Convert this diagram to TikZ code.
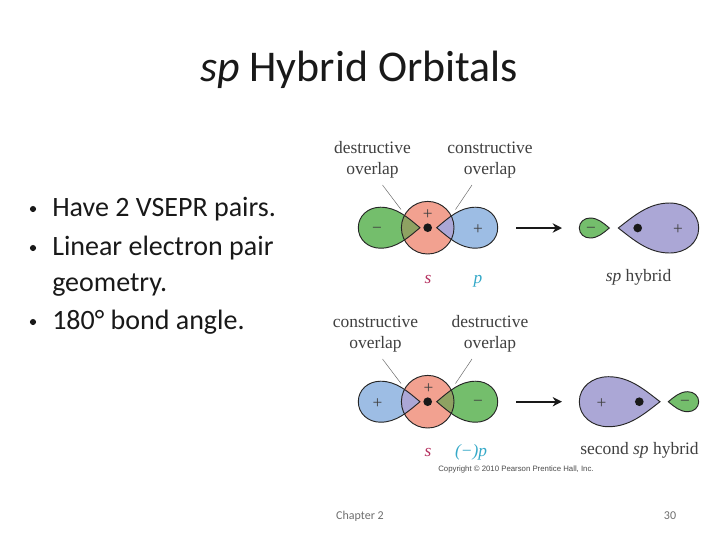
\documentclass[tikz,border=0pt]{standalone}
\usepackage{fontspec}
\setmainfont{Carlito}
\newfontfamily\figfont{Liberation Serif}
\newfontfamily\cpfont{Liberation Sans}
\definecolor{orbgreen}{HTML}{74BE6C}
\definecolor{orbred}{HTML}{F2A190}
\definecolor{orbblue}{HTML}{9DBDE4}
\definecolor{orbpurple}{HTML}{ABA7D6}
\definecolor{ovgreen}{HTML}{8EA262}
\definecolor{ovpurple}{HTML}{ABA7D6}
\definecolor{slabel}{HTML}{B5305F}
\definecolor{plabel}{HTML}{35A9C8}
\definecolor{foot}{HTML}{6E6E6E}
% lobe path: tip x, centre y, signed length, half height
\newcommand{\lobepath}[4]{
  (#1,#2) .. controls ({#1+0.20*(#3)},{#2-0.50*(#4)}) and ({#1+0.38*(#3)},{#2-(#4)}) ..
  ({#1+0.64*(#3)},{#2-(#4)}) .. controls ({#1+0.84*(#3)},{#2-(#4)}) and ({#1+(#3)},{#2-0.58*(#4)}) ..
  ({#1+(#3)},#2) .. controls ({#1+(#3)},{#2+0.58*(#4)}) and ({#1+0.84*(#3)},{#2+(#4)}) ..
  ({#1+0.64*(#3)},{#2+(#4)}) .. controls ({#1+0.38*(#3)},{#2+(#4)}) and ({#1+0.20*(#3)},{#2+0.50*(#4)}) ..
  (#1,#2) -- cycle}
\usetikzlibrary{arrows.meta}
\tikzset{
  x=0.75pt,y=-0.75pt,
  outline/.style={draw=black!85,line width=0.7pt},
  title/.style={font=\fontsize{32.9}{38}\selectfont,text=black!90,inner sep=0,anchor=base},
  bullet/.style={font=\fontsize{21}{25}\selectfont,text=black!90,inner sep=0,anchor=base west},
  bulletmark/.style={circle,fill=black!90,minimum size=4.6pt,inner sep=0},
  figlabel/.style={font=\figfont\fontsize{13.1}{15}\selectfont,text=black!75,inner sep=0,anchor=base},
  sign/.style={font=\figfont\fontsize{13}{14}\selectfont,text=black!75,inner sep=0,yshift=-1.5pt},
  orbit/.style={font=\figfont\itshape\fontsize{13}{15}\selectfont,inner sep=0,anchor=base},
  leader/.style={draw=black!60,line width=0.35pt},
  bigarrow/.style={draw=black!90,line width=1.4pt,-{Stealth[length=7pt,width=7pt]}},
  dotmark/.style={circle,fill=black!90,minimum size=6.5pt,inner sep=0},
  footer/.style={font=\fontsize{9}{11}\selectfont,text=foot,inner sep=0,anchor=base},
}
\begin{document}
\begin{tikzpicture}
\useasboundingbox (0,0) rectangle (720,540);
\fill[white] (0,0) rectangle (720,540);
% title
\node[title] (ttl) at (359,81) {\textit{sp} Hybrid Orbitals};
% bullets
\node[bulletmark] (b1m) at (33,209) {};
\node[bullet] (b1) at (52,216) {Have 2 VSEPR pairs.};
\node[bulletmark] (b2m) at (33,248) {};
\node[bullet] (b2) at (52,255) {Linear electron pair};
\node[bullet] (b2b) at (52,291) {geometry.};
\node[bulletmark] (b3m) at (33,322) {};
\node[bullet] (b3) at (52,329) {180° bond angle.};
% ---------- top figure
\fill[orbgreen] \lobepath{420}{227.7}{-61.7}{20.5};
\fill[orbblue] \lobepath{436.7}{227.7}{61}{20.5};
\fill[orbred] (427.7,227.7) circle (26.3);
\begin{scope}
  \clip (427.7,227.7) circle (26.3);
  \fill[ovgreen] \lobepath{420}{227.7}{-61.7}{20.5};
  \fill[ovpurple] \lobepath{436.7}{227.7}{61}{20.5};
\end{scope}
\draw[outline] \lobepath{420}{227.7}{-61.7}{20.5};
\draw[outline] \lobepath{436.7}{227.7}{61}{20.5};
\draw[outline] (427.7,227.7) circle (26.3);
\node[dotmark] (d1) at (427.7,227.7) {};
\node[sign] (s1) at (377,228) {−};
\node[sign] (s2) at (427.7,213) {+};
\node[sign] (s3) at (478,228) {+};
\node[figlabel] (t1a) at (372.5,153) {destructive};
\node[figlabel] (t1b) at (372.5,174.5) {overlap};
\node[figlabel] (t2a) at (490,153) {constructive};
\node[figlabel] (t2b) at (490,174.5) {overlap};
\coordinate (l1) at (401,209.5);
\coordinate (l1s) at (382.5,185);
\coordinate (l2) at (455.5,209.5);
\coordinate (l2s) at (472,185);
\draw[leader] (l1s) -- (l1);
\draw[leader] (l2s) -- (l2);
\coordinate (a1s) at (516,228);
\coordinate (a1e) at (562,228);
\draw[bigarrow] (a1s) -- (a1e);
\fill[orbgreen] \lobepath{609.3}{228}{-30}{10};
\draw[outline] \lobepath{609.3}{228}{-30}{10};
\fill[orbpurple] \lobepath{618.3}{228}{80.4}{25};
\draw[outline] \lobepath{618.3}{228}{80.4}{25};
\node[dotmark] (d2) at (637.7,228) {};
\node[sign] (s4) at (591,228) {−};
\node[sign] (s5) at (678,228) {+};
\node[orbit,text=slabel] (o1) at (428,283) {s};
\node[orbit,text=plabel] (o2) at (478,283) {p};
\node[figlabel] (h1) at (638.5,281) {\textit{sp} hybrid};
% ---------- bottom figure
\fill[orbblue] \lobepath{420}{401.7}{-61.7}{20.5};
\fill[orbgreen] \lobepath{436.7}{401.7}{61}{20.5};
\fill[orbred] (427.7,401.7) circle (26.3);
\begin{scope}
  \clip (427.7,401.7) circle (26.3);
  \fill[ovpurple] \lobepath{420}{401.7}{-61.7}{20.5};
  \fill[ovgreen] \lobepath{436.7}{401.7}{61}{20.5};
\end{scope}
\draw[outline] \lobepath{420}{401.7}{-61.7}{20.5};
\draw[outline] \lobepath{436.7}{401.7}{61}{20.5};
\draw[outline] (427.7,401.7) circle (26.3);
\node[dotmark] (d3) at (427.7,401.7) {};
\node[sign] (s6) at (377.5,401.7) {+};
\node[sign] (s7) at (428.5,386.5) {+};
\node[sign] (s8) at (478,401.7) {−};
\node[figlabel] (t3a) at (375.5,327) {constructive};
\node[figlabel] (t3b) at (375.5,348.5) {overlap};
\node[figlabel] (t4a) at (490,327) {destructive};
\node[figlabel] (t4b) at (490,348.5) {overlap};
\coordinate (l3) at (401,383.5);
\coordinate (l3s) at (382.5,359);
\coordinate (l4) at (455.5,383.5);
\coordinate (l4s) at (472,359);
\draw[leader] (l3s) -- (l3);
\draw[leader] (l4s) -- (l4);
\coordinate (a2s) at (516,401.7);
\coordinate (a2e) at (562,401.7);
\draw[bigarrow] (a2s) -- (a2e);
\fill[orbpurple] \lobepath{660}{401.7}{-80.7}{25};
\draw[outline] \lobepath{660}{401.7}{-80.7}{25};
\fill[orbgreen] \lobepath{668.3}{401.7}{30.4}{10};
\draw[outline] \lobepath{668.3}{401.7}{30.4}{10};
\node[dotmark] (d4) at (639.3,401.7) {};
\node[sign] (s9) at (601.5,401.7) {+};
\node[sign] (s10) at (685,401.7) {−};
\node[orbit,text=slabel] (o3) at (428,456) {s};
\node[orbit,text=plabel] (o4) at (471,456) {\figfont(−)\itshape p};
\node[figlabel] (h2) at (639.5,454.5) {second \textit{sp} hybrid};
\node[font=\cpfont\fontsize{5.85}{6}\selectfont,text=black!70,inner sep=0,anchor=base] (cp) at (516,471) {Copyright © 2010 Pearson Prentice Hall, Inc.};
% footer
\node[footer] (f1) at (360,519) {Chapter 2};
\node[footer] (f2) at (670,519) {30};
\end{tikzpicture}
\end{document}
